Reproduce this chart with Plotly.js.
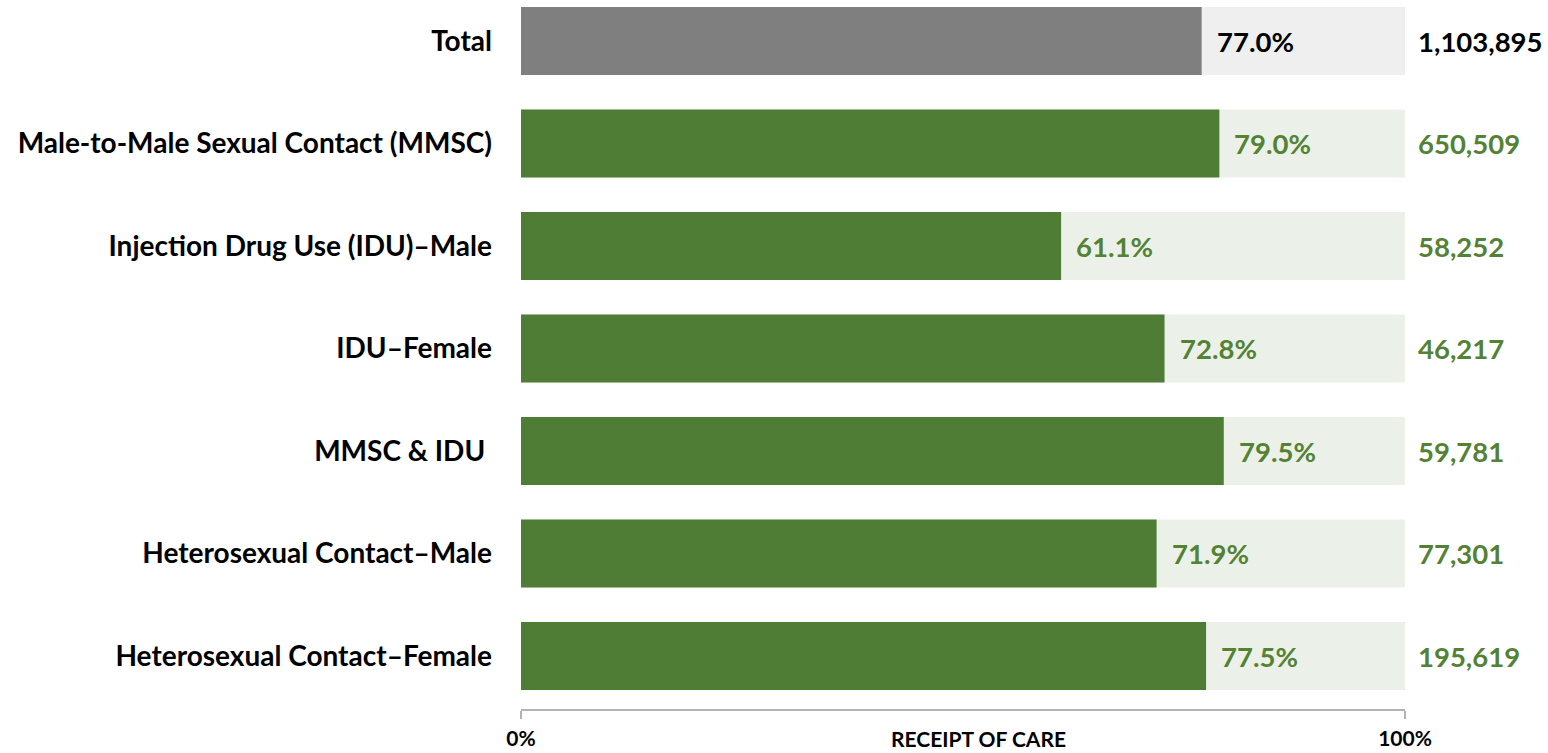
<!DOCTYPE html>
<html>
<head>
<meta charset="utf-8">
<script src="https://cdn.plot.ly/plotly-3.0.1.min.js"></script>
<style>html,body{margin:0;padding:0;background:#fff;}#chart{width:1548px;height:753px;}</style>
</head>
<body>
<div id="chart"></div>
<script>
const categories = ["Total", "Male-to-Male Sexual Contact (MMSC)", "Injection Drug Use (IDU)\u2013Male", "IDU\u2013Female", "MMSC & IDU ", "Heterosexual Contact\u2013Male", "Heterosexual Contact\u2013Female"];
const receiptPct = [77.0, 79.0, 61.1, 72.8, 79.5, 71.9, 77.5];
const counts = ["1,103,895", "650,509", "58,252", "46,217", "59,781", "77,301", "195,619"];
const fullScale = [100, 100, 100, 100, 100, 100, 100];
const xTickVals = [0, 100];
const xTickText = ["0%", "100%"];

const FONT = "Lato, 'Open Sans', sans-serif";
const GREEN = "#507d36";
const GREEN_TEXT = "#548235";
const isTotal = categories.map((c, i) => i === 0);

const bgTrace = {
  type: "bar", orientation: "h", y: categories, x: fullScale,
  marker: {color: isTotal.map(t => t ? "#efefef" : "#ebf1e8")},
  width: 0.665, hoverinfo: "skip", showlegend: false
};
const fgTrace = {
  type: "bar", orientation: "h", y: categories, x: receiptPct,
  marker: {color: isTotal.map(t => t ? "#7f7f7f" : GREEN)},
  width: 0.665, showlegend: false
};

const annotations = [];
categories.forEach((c, i) => {
  const col = isTotal[i] ? "#000000" : GREEN_TEXT;
  annotations.push({
    x: receiptPct[i], y: c, xref: "x", yref: "y", text: receiptPct[i].toFixed(1) + "%",
    showarrow: false, xanchor: "left", xshift: 13, font: {family: FONT, size: 27.5, color: col, weight: "bold"}
  });
  annotations.push({
    x: fullScale[i], y: c, xref: "x", yref: "y", text: counts[i],
    showarrow: false, xanchor: "left", xshift: 11, font: {family: FONT, size: 27.5, color: col, weight: "bold"}
  });
});
annotations.push({
  x: 0.518, y: 0, xref: "paper", yref: "paper", yshift: -43, text: "RECEIPT OF CARE",
  showarrow: false, xanchor: "center", yanchor: "bottom", borderpad: 0,
  font: {family: FONT, size: 21, color: "#000", weight: "bold"}
});

const layout = {
  width: 1548, height: 753,
  margin: {l: 521, r: 143, t: 0, b: 44},
  paper_bgcolor: "#fff", plot_bgcolor: "#fff",
  barmode: "overlay",
  font: {family: FONT, color: "#000"},
  xaxis: {
    range: [0, 100], tickvals: xTickVals, ticktext: xTickText,
    showgrid: false, zeroline: false, showline: true, linecolor: "#b3b3b3", linewidth: 1.5,
    ticks: "outside", ticklen: 8, tickcolor: "#b3b3b3", tickwidth: 1.5, ticklabelstandoff: 2,
    tickfont: {family: FONT, size: 21, color: "#000", weight: "bold"}, fixedrange: true
  },
  xaxis2: {
    overlaying: "x", side: "bottom", range: [0, 100], tickvals: xTickVals,
    showticklabels: false, showgrid: false, zeroline: false, showline: false,
    ticks: "inside", ticklen: 8, tickcolor: "#b3b3b3", tickwidth: 1.5, anchor: "y"
  },
  yaxis: {
    type: "category", range: [6.517, -0.4], showgrid: false, zeroline: false, showline: false,
    ticks: "", ticklabelstandoff: 28,
    tickfont: {family: FONT, size: 28, color: "#000", weight: "bold"}, fixedrange: true
  },
  annotations: annotations
};

const axisTrace = {type: "scatter", x: xTickVals, y: [categories[0], categories[0]], xaxis: "x2", mode: "none", hoverinfo: "skip", showlegend: false};

Plotly.newPlot("chart", [bgTrace, fgTrace, axisTrace], layout, {displayModeBar: false, staticPlot: true});
</script>
</body>
</html>
